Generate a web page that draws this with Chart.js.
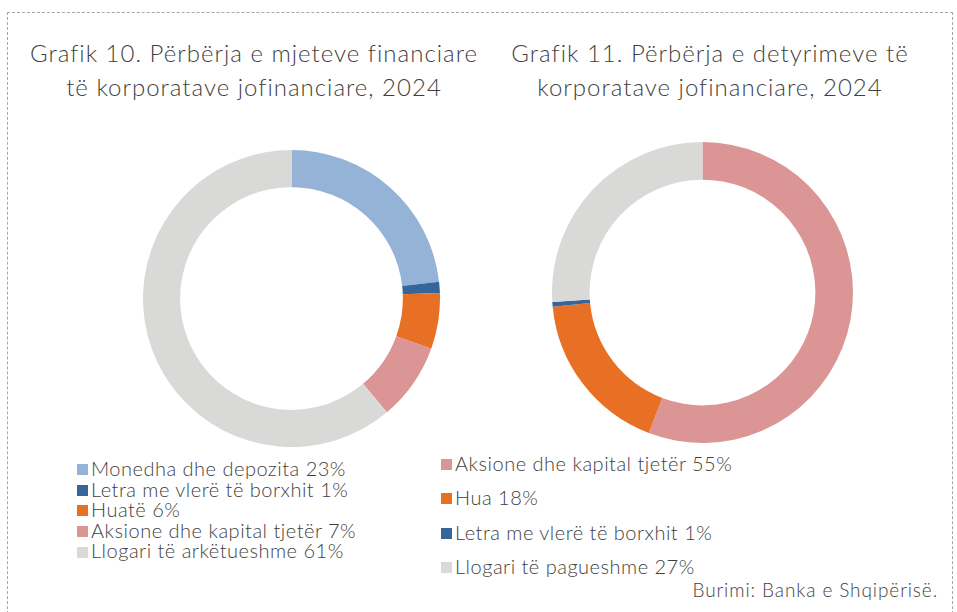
<!DOCTYPE html>
<html>
<head>
<meta charset="utf-8">
<script src="https://cdn.jsdelivr.net/npm/chart.js@4"></script>
<style>
    html, body { margin: 0; padding: 0; background: #fff; }
    body { width: 957px; height: 612px; position: relative; overflow: hidden;
           font-family: 'Lato', 'Open Sans', sans-serif; font-weight: 300; color: #3f3f3f; }
    .frame { position: absolute; left: 7px; top: 12px; width: 944px; height: 640px;
             border: 1px dashed #a6a6a6; }
    .title { position: absolute; font-size: 24px; line-height: 34px; text-align: center;
             white-space: nowrap; letter-spacing: 1px; }
    canvas { position: absolute; }
    .legend { position: absolute; font-size: 20px; white-space: nowrap; letter-spacing: 0.5px; }
    .legend div { position: relative; padding-left: 14px; }
    .legend span.box { position: absolute; left: 0; width: 11px; height: 11px; }
    .source { position: absolute; right: 19px; top: 578px; font-size: 19px; letter-spacing: 0.9px; }
</style>
</head>
<body>
<div class="frame"></div>

<div class="title" style="left:0; width:508px; top:36px;">Grafik 10. Përbërja e mjeteve financiare<br>të korporatave jofinanciare, 2024</div>
<div class="title" style="left:456px; width:508px; top:36px;">Grafik 11. Përbërja e detyrimeve të<br>korporatave jofinanciare, 2024</div>

<canvas id="assetsChart" width="297" height="297" style="left:143px; top:150px;"></canvas>
<canvas id="liabChart" width="301" height="301" style="left:552px; top:142px;"></canvas>

<div class="legend" id="assetsLegend" style="left:77px; top:458px; line-height:20.6px;"></div>
<div class="legend" id="liabLegend" style="left:441px; top:446px; line-height:34.3px;"></div>

<div class="source">Burimi: Banka e Shqipërisë.</div>

<script>
// Grafik 10 - mjetet financiare
var assetLabels = ['Monedha dhe depozita', 'Letra me vlerë të borxhit', 'Huatë', 'Aksione dhe kapital tjetër', 'Llogari të arkëtueshme'];
var assetPct = [23, 1, 6, 7, 61];               // as printed in the legend
var assetValues = [23.2, 1.2, 6.1, 8.4, 61.1];  // slice sizes
var assetColors = ['#95b3d7', '#35659b', '#e87025', '#da9594', '#d9d9d8'];

// Grafik 11 - detyrimet
var liabLabels = ['Aksione dhe kapital tjetër', 'Hua', 'Letra me vlerë të borxhit', 'Llogari të pagueshme'];
var liabPct = [55, 18, 1, 27];
var liabValues = [55.8, 17.7, 0.5, 26.0];
var liabColors = ['#da9594', '#e87025', '#35659b', '#d9d9d8'];

function makeDoughnut(id, labels, values, colors) {
    var ctx = document.getElementById(id).getContext('2d');
    return new Chart(ctx, {
        type: 'doughnut',
        data: {
            labels: labels,
            datasets: [{
                data: values,
                backgroundColor: colors,
                borderWidth: 0
            }]
        },
        options: {
            responsive: false,
            animation: false,
            cutout: '75%',
            layout: { padding: 0 },
            plugins: {
                legend: { display: false },
                tooltip: { enabled: false }
            }
        }
    });
}

function makeLegend(id, labels, pct, colors) {
    var el = document.getElementById(id);
    var html = '';
    for (var i = 0; i < labels.length; i++) {
        html += '<div><span class="box" style="background:' + colors[i] + '; top:calc(50% - 4px);"></span>' +
                labels[i] + ' ' + pct[i] + '%</div>';
    }
    el.innerHTML = html;
}

makeDoughnut('assetsChart', assetLabels, assetValues, assetColors);
makeDoughnut('liabChart', liabLabels, liabValues, liabColors);
makeLegend('assetsLegend', assetLabels, assetPct, assetColors);
makeLegend('liabLegend', liabLabels, liabPct, liabColors);
</script>
</body>
</html>
